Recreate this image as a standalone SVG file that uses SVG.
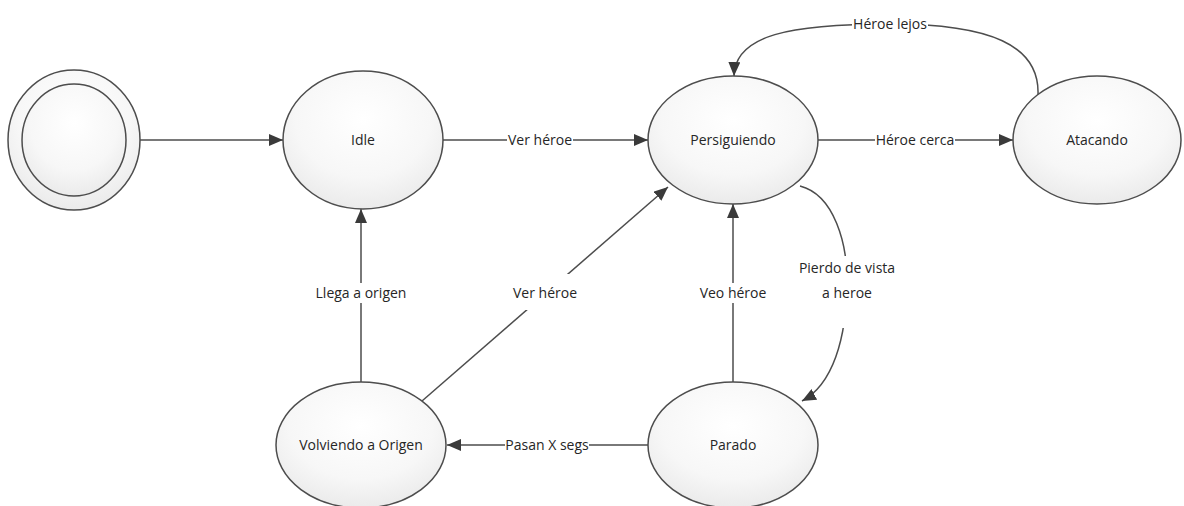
<svg xmlns="http://www.w3.org/2000/svg" width="1184" height="506" viewBox="0 0 1184 506">
<style>
.node{fill:url(#g);stroke:#4d4d4d;stroke-width:1.5}
.lbl{font-family:"Open Sans","Liberation Sans",sans-serif;font-size:14px;fill:#262626;text-anchor:middle}
.edge{fill:none;stroke:#4d4d4d;stroke-width:1.5}
.bg{fill:#fff}
</style>
<defs>
<radialGradient id="g" cx="0.5" cy="0.35" r="0.7">
<stop offset="0" stop-color="#ffffff"/>
<stop offset="0.6" stop-color="#f7f7f7"/>
<stop offset="1" stop-color="#e8e8e8"/>
</radialGradient>
<marker id="ah" viewBox="0 0 14 12" refX="14" refY="6" markerWidth="14" markerHeight="12" markerUnits="userSpaceOnUse" orient="auto">
<path d="M0,0 L14,6 L0,12 Z" fill="#3a3a3a"/>
</marker>
</defs>
<rect width="1184" height="506" fill="#fff"/>

<g id="connectors">
<path class="edge" d="M140,140 L283,140" marker-end="url(#ah)"/>
<path class="edge" d="M443,140 L648,140" marker-end="url(#ah)"/>
<path class="edge" d="M818,140 L1013,140" marker-end="url(#ah)"/>
<path class="edge" d="M1038,95 C1040,45 990,24 890,24 C790,24 735,35 734,76" marker-end="url(#ah)"/>
<path class="edge" d="M800,186 C835,195 847,245 847,280 C847,340 832,385 802,401" marker-end="url(#ah)"/>
<path class="edge" d="M733,382 L733,204" marker-end="url(#ah)"/>
<path class="edge" d="M361,382 L361,209" marker-end="url(#ah)"/>
<path class="edge" d="M422,401 L668,187" marker-end="url(#ah)"/>
<path class="edge" d="M648,445 L447,445" marker-end="url(#ah)"/>

<rect class="bg" x="507" y="130" width="66" height="20"/>
<text class="lbl" x="540" y="145">Ver héroe</text>
<rect class="bg" x="875" y="130" width="80" height="20"/>
<text class="lbl" x="915" y="145">Héroe cerca</text>
<rect class="bg" x="852" y="14" width="76" height="20"/>
<text class="lbl" x="890" y="29">Héroe lejos</text>
<rect class="bg" x="795" y="256" width="104" height="72"/>
<text class="lbl" x="847" y="273">Pierdo de vista</text>
<text class="lbl" x="847" y="298">a heroe</text>
<rect class="bg" x="692" y="283" width="82" height="20"/>
<text class="lbl" x="733" y="298">Veo héroe</text>
<rect class="bg" x="307" y="283" width="108" height="20"/>
<text class="lbl" x="361" y="298">Llega a origen</text>
<rect class="bg" x="508" y="274" width="76" height="36"/>
<text class="lbl" x="545" y="298">Ver héroe</text>
<rect class="bg" x="505" y="435" width="84" height="20"/>
<text class="lbl" x="547" y="450">Pasan X segs</text>
</g>

<g id="start">
<ellipse class="node" cx="74" cy="140" rx="66" ry="70"/>
<ellipse class="node" cx="74" cy="140" rx="52" ry="56"/>
</g>
<g id="idle">
<ellipse class="node" cx="363" cy="140" rx="80" ry="69"/>
<text class="lbl" x="363" y="145">Idle</text>
</g>
<g id="persiguiendo">
<ellipse class="node" cx="733" cy="140" rx="85" ry="64"/>
<text class="lbl" x="733" y="145">Persiguiendo</text>
</g>
<g id="atacando">
<ellipse class="node" cx="1097" cy="140" rx="84" ry="64"/>
<text class="lbl" x="1097" y="145">Atacando</text>
</g>
<g id="volviendo">
<ellipse class="node" cx="361" cy="445" rx="85" ry="63"/>
<text class="lbl" x="361" y="450">Volviendo a Origen</text>
</g>
<g id="parado">
<ellipse class="node" cx="733" cy="445" rx="85" ry="63"/>
<text class="lbl" x="733" y="450">Parado</text>
</g>
</svg>
